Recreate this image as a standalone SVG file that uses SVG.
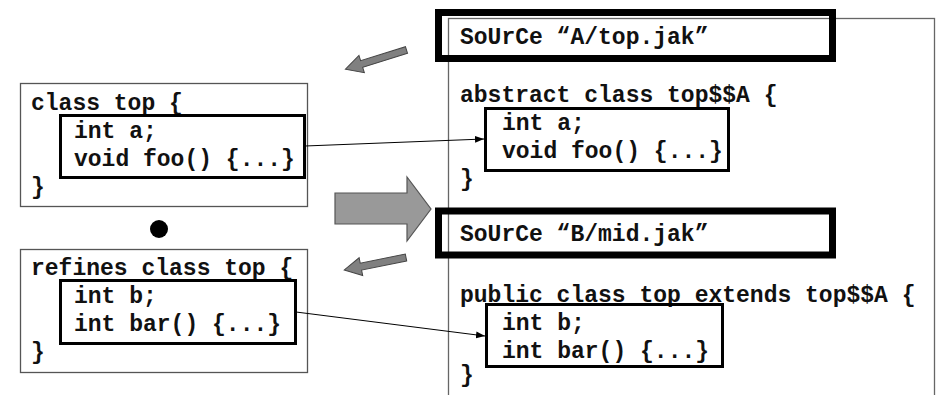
<svg xmlns="http://www.w3.org/2000/svg" width="937" height="395" viewBox="0 0 937 395">
  <style>
    text { font-family: "Liberation Mono", "Courier New", monospace; font-weight: bold; font-size: 23px; fill: #111; }
    .outer { fill: #fff; stroke: #555; stroke-width: 1.3; }
    .inner { fill: none; stroke: #000; stroke-width: 3; }
    .source { fill: none; stroke: #000; stroke-width: 7; }
    .panel { fill: #fff; stroke: #666; stroke-width: 1.3; }
    .smallarrow { fill: #808080; stroke: #444; stroke-width: 1; }
    .bigarrow { fill: #999; stroke: #555; stroke-width: 1.2; }
    .link { stroke: #000; stroke-width: 1; fill: none; }
  </style>
  <defs>
    <marker id="head" markerUnits="userSpaceOnUse" markerWidth="10" markerHeight="8" refX="9" refY="4" orient="auto">
      <path d="M0,0.5 L9,4 L0,7.5 Z" fill="#000"/>
    </marker>
  </defs>
  <rect width="937" height="395" fill="#fff"/>

  <!-- generated output file -->
  <g id="output-panel">
    <rect class="panel" x="448.5" y="18.5" width="486" height="390"/>
  </g>

  <g id="source-a">
    <rect class="source" x="438.5" y="12.5" width="394" height="46"/>
    <text x="460" y="44">SoUrCe “A/top.jak”</text>
  </g>

  <g id="abstract-top">
    <text x="460" y="102">abstract class top$$A {</text>
    <text x="460" y="186">}</text>
  </g>

  <g id="abstract-top-members">
    <rect class="inner" x="485.5" y="108.5" width="243" height="62"/>
    <text x="502" y="130">int a;</text>
    <text x="502" y="158">void foo() {...}</text>
  </g>

  <g id="source-b">
    <rect class="source" x="438.5" y="211" width="394" height="44"/>
    <text x="460" y="241">SoUrCe “B/mid.jak”</text>
  </g>

  <g id="public-top">
    <text x="460" y="302">public class top extends top$$A {</text>
    <text x="460" y="382">}</text>
  </g>

  <g id="public-top-members">
    <rect class="inner" x="486.5" y="304.5" width="236" height="62"/>
    <text x="502" y="330">int b;</text>
    <text x="502" y="358">int bar() {...}</text>
  </g>

  <!-- base layer -->
  <g id="class-top">
    <rect class="outer" x="20.5" y="83.5" width="287" height="123"/>
    <text x="31" y="110">class top {</text>
    <text x="31" y="194">}</text>
  </g>

  <g id="class-top-members">
    <rect class="inner" x="60.5" y="115.5" width="244" height="62"/>
    <text x="74" y="138">int a;</text>
    <text x="74" y="166">void foo() {...}</text>
  </g>

  <!-- composition operator -->
  <g id="compose-dot">
    <circle cx="159" cy="229" r="9" fill="#000"/>
  </g>

  <!-- refinement layer -->
  <g id="refines-top">
    <rect class="outer" x="20.5" y="249.5" width="287" height="123"/>
    <text x="31" y="275">refines class top {</text>
    <text x="31" y="359">}</text>
  </g>

  <g id="refines-top-members">
    <rect class="inner" x="60.5" y="280.5" width="235" height="63"/>
    <text x="74" y="303">int b;</text>
    <text x="74" y="331">int bar() {...}</text>
  </g>

  <!-- translation arrows -->
  <g id="translate-arrow">
    <polygon class="bigarrow" points="335,193 407,193 407,177 431,209 407,241 407,224 335,224"/>
  </g>

  <g id="source-a-arrow">
    <polygon class="smallarrow" transform="translate(406.5,50) rotate(162.6)" points="0,-3.5 47,-3.5 47,-9 64,0 47,9 47,3.5 0,3.5"/>
  </g>

  <g id="source-b-arrow">
    <polygon class="smallarrow" transform="translate(406,257.5) rotate(168.6)" points="0,-3.5 46,-3.5 46,-9 63,0 46,9 46,3.5 0,3.5"/>
  </g>

  <!-- member mapping connectors -->
  <g id="connectors">
    <line class="link" x1="305" y1="146" x2="484" y2="139" marker-end="url(#head)"/>
    <line class="link" x1="296" y1="312" x2="485" y2="336" marker-end="url(#head)"/>
  </g>
</svg>
